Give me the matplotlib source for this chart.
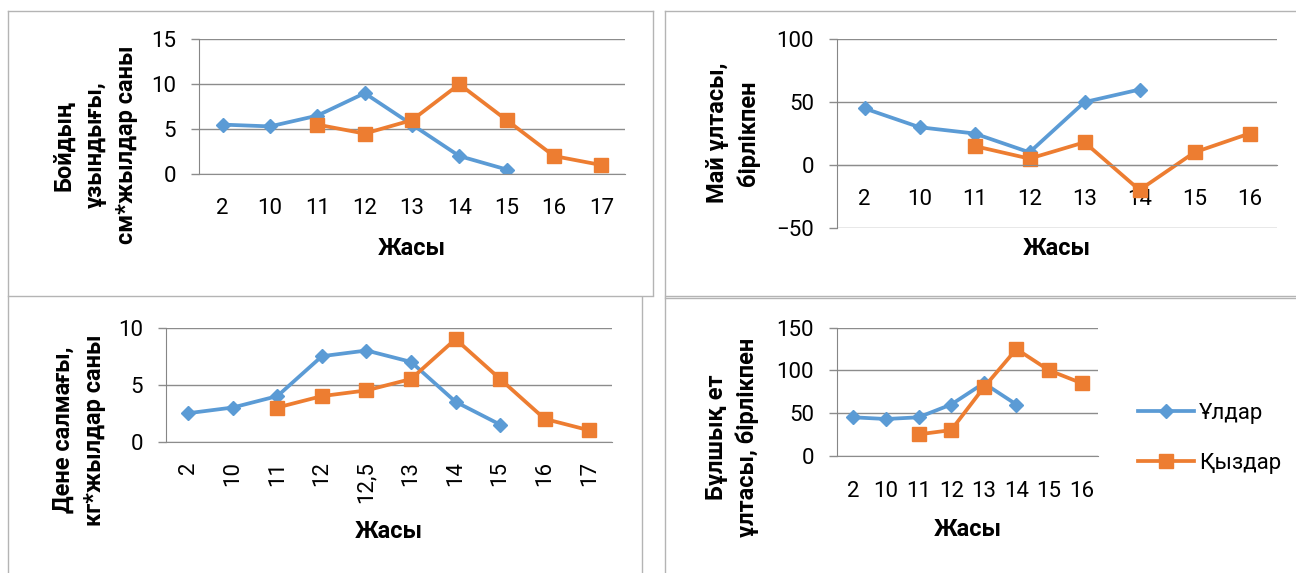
import numpy as np
import matplotlib
matplotlib.use('Agg')
import matplotlib.pyplot as plt
from matplotlib.lines import Line2D

plt.rcParams['font.family'] = ['Roboto', 'DejaVu Sans']

# деректер
ages_height = ['2', '10', '11', '12', '13', '14', '15', '16', '17']
boys_height = [5.5, 5.3, 6.5, 9.0, 5.5, 2.0, 0.5, np.nan, np.nan]
girls_height = [np.nan, np.nan, 5.5, 4.5, 6.0, 10.0, 6.0, 2.0, 1.0]

ages_fat = ['2', '10', '11', '12', '13', '14', '15', '16']
boys_fat = [45, 30, 25, 10, 50, 60, np.nan, np.nan]
girls_fat = [np.nan, np.nan, 15, 5, 18, -20, 10, 25]

ages_weight = ['2', '10', '11', '12', '12,5', '13', '14', '15', '16', '17']
boys_weight = [2.5, 3.0, 4.0, 7.5, 8.0, 7.0, 3.5, 1.5, np.nan, np.nan]
girls_weight = [np.nan, np.nan, 3.0, 4.0, 4.5, 5.5, 9.0, 5.5, 2.0, 1.0]

ages_muscle = ['2', '10', '11', '12', '13', '14', '15', '16']
boys_muscle = [45, 43, 45, 60, 85, 60, np.nan, np.nan]
girls_muscle = [np.nan, np.nan, 25, 30, 80, 125, 100, 85]

BLUE = '#5B9BD5'
ORANGE = '#ED7D31'
GRID = '#8c8c8c'
BORDER = '#b4b4b4'
TICK_FS = 16

W, H = 1296, 573
fig = plt.figure(figsize=(W / 100, H / 100), dpi=100)


def box(x0, x1, y0, y1):
    return [x0 / W, 1 - y1 / H, (x1 - x0) / W, (y1 - y0) / H]


def panel(pos, cats, boys, girls, ylim, yticks, ylabel, ylab_px, xlab_px, rot=0, xpad=17.5):
    ax = fig.add_axes(box(*pos))
    x = np.arange(len(cats))
    ax.plot(x, boys, color=BLUE, lw=2.7, marker='D', ms=7.5, label='Ұлдар')
    ax.plot(x, girls, color=ORANGE, lw=2.7, marker='s', ms=10, label='Қыздар')
    ax.set_xlim(-0.5, len(cats) - 0.5)
    ax.set_ylim(*ylim)
    ax.set_yticks(yticks)
    ax.set_xticks(x, cats)
    ax.tick_params(axis='x', length=0, pad=xpad, labelsize=TICK_FS, labelrotation=rot)
    ax.tick_params(axis='y', length=6, color=GRID, width=1, pad=10.5, labelsize=TICK_FS)
    for s in ['top', 'right']:
        ax.spines[s].set_visible(False)
    ax.spines['left'].set_color('#868686')
    ax.spines['bottom'].set_position(('data', 0))
    ax.spines['bottom'].set_color(GRID)
    ax.grid(axis='y', color=GRID, lw=1)
    ax.set_axisbelow(True)

    x0, x1, y0, y1 = pos
    ax.set_ylabel(ylabel, fontsize=17, fontweight='bold', linespacing=1.45)
    ax.yaxis.set_label_coords((ylab_px[0] - x0) / (x1 - x0), (y1 - ylab_px[1]) / (y1 - y0))
    ax.yaxis.label.set_va('center')
    ax.set_xlabel('Жасы', fontsize=17, fontweight='bold')
    ax.xaxis.set_label_coords((xlab_px[0] - x0) / (x1 - x0), (y1 - xlab_px[1]) / (y1 - y0))
    ax.xaxis.label.set_va('center')
    return ax


panel((199, 625, 39.3, 174), ages_height, boys_height, girls_height, (0, 15), [0, 5, 10, 15],
      'Бойдың\nұзындығы,\nсм*жылдар саны', (95, 145), (412, 248))
panel((837, 1277, 39.3, 227.7), ages_fat, boys_fat, girls_fat, (-50, 100), [-50, 0, 50, 100],
      'Май ұлтасы,\nбірлікпен', (733, 133), (1057, 248))
panel((166, 611.5, 327.7, 441.7), ages_weight, boys_weight, girls_weight, (0, 10), [0, 5, 10],
      'Дене салмағы,\nкг*жылдар саны', (79, 430), (389, 532), rot=90, xpad=14)
ax4 = panel((837, 1098, 327.7, 455.7), ages_muscle, boys_muscle, girls_muscle, (0, 150), [0, 50, 100, 150],
            'Бұлшық ет\nұлтасы, бірлікпен', (732, 437), (968, 530), xpad=18.5)

ax4.legend(loc='center left', bbox_to_anchor=((1138 - 837) / 261, (455.7 - 438.5) / 128),
           frameon=False, fontsize=TICK_FS, handlelength=2.5, handletextpad=0.25,
           labelspacing=1.3, borderpad=0, borderaxespad=0)

# панельдердің жиектері
segs = [
    ((8, 653), (10.5, 10.5)), ((8, 8), (10.5, 573)), ((653, 653), (10.5, 295)), ((8, 653), (295.5, 295.5)),
    ((665, 1296), (10.5, 10.5)), ((665, 665), (10.5, 295)), ((665, 1296), (295.5, 295.5)),
    ((642, 642), (297, 573)), ((665, 665), (297, 573)), ((665, 1296), (297.5, 297.5)),
]
for xs, ys in segs:
    fig.add_artist(Line2D([v / W for v in xs], [1 - v / H for v in ys], color=BORDER, lw=1))

fig.savefig('out.png', dpi=100)
